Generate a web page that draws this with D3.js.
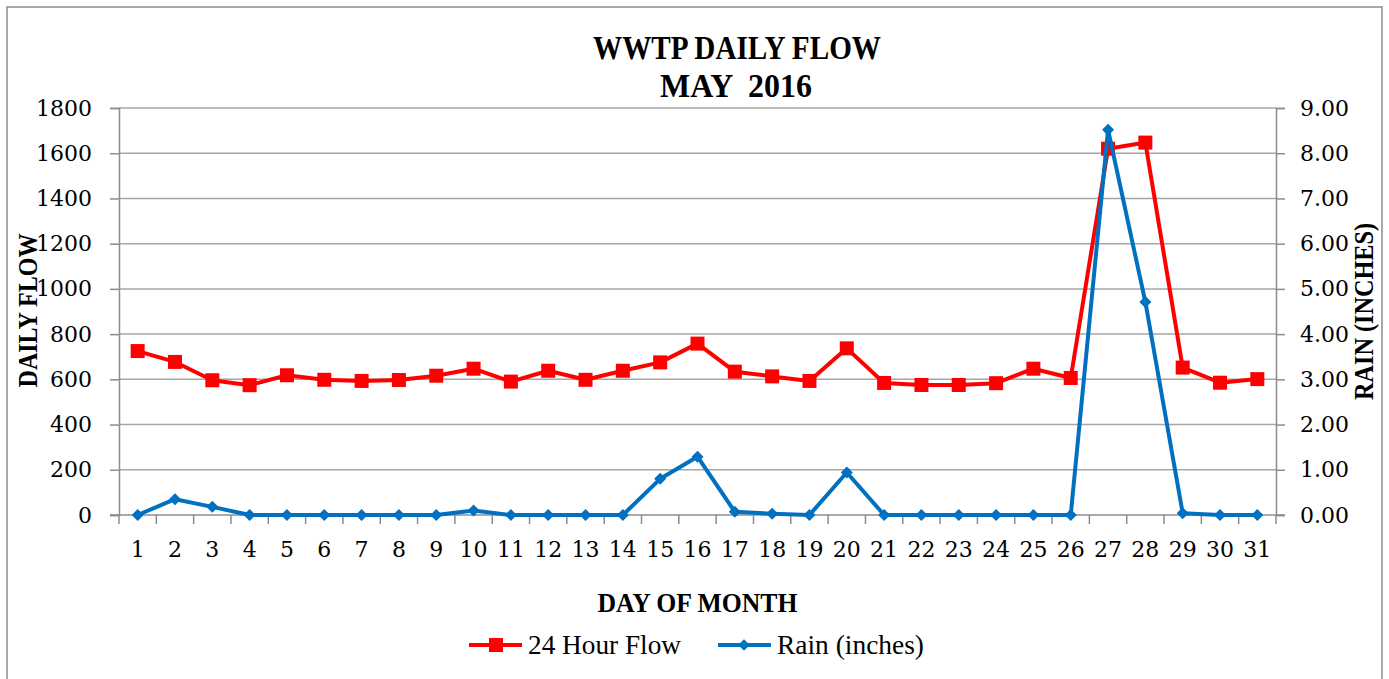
<!DOCTYPE html>
<html>
<head>
<meta charset="utf-8">
<script src="https://cdn.jsdelivr.net/npm/d3@7"></script>
<style>
  body { margin: 0; background: #fff; }
  svg text { font-family: "Liberation Serif", "DejaVu Serif", serif; fill: #000; }
  svg .num text { font-family: "DejaVu Serif", "Liberation Serif", serif; }
</style>
</head>
<body>
<div id="chart"></div>
<script>
// data
const days = d3.range(1, 32).map(String);
const flow = [725, 677, 596, 574, 618, 598, 593, 597, 616, 647, 590, 638, 598, 638, 675,
              758, 634, 613, 593, 737, 584, 575, 575, 583, 647, 606, 1620, 1647, 652, 585, 601];
const rain = [0, 0.35, 0.18, 0, 0, 0, 0, 0, 0, 0.10, 0, 0, 0, 0, 0.80,
              1.29, 0.07, 0.03, 0, 0.94, 0, 0, 0, 0, 0, 0, 8.52, 4.71, 0.04, 0, 0];
const flowTicks = d3.range(0, 1801, 200);
const rainTicks = d3.range(0, 9.01, 1);

const W = 1389, H = 679;
const plot = { left: 119, right: 1276, top: 108, bottom: 515 };
const axisGrey = "#8c8c8c";

const svg = d3.select("#chart").append("svg")
    .attr("width", W)
    .attr("height", H);

// chart frame
svg.append("rect")
    .attr("x", 7).attr("y", 7)
    .attr("width", 1375).attr("height", 700)
    .attr("fill", "#fff")
    .attr("stroke", axisGrey)
    .attr("stroke-width", 1.5);

const x = d3.scaleBand()
    .domain(days)
    .range([plot.left, plot.right]);

const yFlow = d3.scaleLinear().domain([0, 1800]).range([plot.bottom, plot.top]);
const yRain = d3.scaleLinear().domain([0, 9]).range([plot.bottom, plot.top]);

// gridlines
svg.append("g")
    .selectAll("line")
    .data(flowTicks.slice(1))
    .join("line")
    .attr("x1", plot.left).attr("x2", plot.right)
    .attr("y1", d => yFlow(d)).attr("y2", d => yFlow(d))
    .attr("stroke", "#a6a6a6")
    .attr("stroke-width", 1.5);

// left axis
const leftAxis = svg.append("g")
    .attr("class", "num")
    .attr("transform", `translate(${plot.left},0)`)
    .call(d3.axisLeft(yFlow).tickValues(flowTicks).tickSize(9).tickPadding(18).tickFormat(d3.format("d")));
leftAxis.select(".domain").attr("stroke", axisGrey).attr("stroke-width", 1.5);
leftAxis.selectAll(".tick line").attr("stroke", axisGrey).attr("stroke-width", 1.5);
leftAxis.selectAll("text").style("font-size", "22px");

// right axis
const rightAxis = svg.append("g")
    .attr("class", "num")
    .attr("transform", `translate(${plot.right},0)`)
    .call(d3.axisRight(yRain).tickValues(rainTicks).tickSize(9).tickPadding(15).tickFormat(d3.format(".2f")));
rightAxis.select(".domain").attr("stroke", axisGrey).attr("stroke-width", 1.5);
rightAxis.selectAll(".tick line").attr("stroke", axisGrey).attr("stroke-width", 1.5);
rightAxis.selectAll("text").style("font-size", "22px");

// bottom axis: labels centred, ticks between categories
const bottomAxis = svg.append("g")
    .attr("class", "num")
    .attr("transform", `translate(0,${plot.bottom})`)
    .call(d3.axisBottom(x).tickSize(0).tickPadding(26));
bottomAxis.select(".domain").remove();
bottomAxis.selectAll("text").style("font-size", "22px");

svg.append("g")
    .selectAll("line")
    .data(d3.range(days.length + 1))
    .join("line")
    .attr("x1", i => plot.left + i * x.step())
    .attr("x2", i => plot.left + i * x.step())
    .attr("y1", plot.bottom).attr("y2", plot.bottom + 9)
    .attr("stroke", axisGrey)
    .attr("stroke-width", 1.5);

svg.append("line")
    .attr("x1", plot.left - 9).attr("x2", plot.right + 9)
    .attr("y1", plot.bottom).attr("y2", plot.bottom)
    .attr("stroke", axisGrey)
    .attr("stroke-width", 1.5);

const cx = d => x(d) + x.bandwidth() / 2;

// flow line
const flowLine = d3.line()
    .x((d, i) => cx(days[i]))
    .y(d => yFlow(d));

svg.append("path")
    .datum(flow)
    .attr("fill", "none")
    .attr("stroke", "#ff0000")
    .attr("stroke-width", 4)
    .attr("stroke-linejoin", "round")
    .attr("d", flowLine);

svg.append("g")
    .selectAll("rect")
    .data(flow)
    .join("rect")
    .attr("x", (d, i) => cx(days[i]) - 7)
    .attr("y", d => yFlow(d) - 7)
    .attr("width", 14).attr("height", 14)
    .attr("fill", "#ff0000");

// rain line
const rainLine = d3.line()
    .x((d, i) => cx(days[i]))
    .y(d => yRain(d));

svg.append("path")
    .datum(rain)
    .attr("fill", "none")
    .attr("stroke", "#0070c0")
    .attr("stroke-width", 4)
    .attr("stroke-linejoin", "round")
    .attr("d", rainLine);

svg.append("g")
    .selectAll("path")
    .data(rain)
    .join("path")
    .attr("transform", (d, i) => `translate(${cx(days[i])},${yRain(d)}) rotate(45)`)
    .attr("d", d3.symbol().type(d3.symbolSquare).size(72))
    .attr("fill", "#0070c0");

// titles
svg.append("text")
    .attr("x", 737).attr("y", 59)
    .attr("text-anchor", "middle")
    .attr("textLength", 288).attr("lengthAdjust", "spacingAndGlyphs")
    .style("font-size", "33px").style("font-weight", "bold")
    .text("WWTP DAILY FLOW");
svg.append("text")
    .attr("x", 736).attr("y", 97)
    .attr("text-anchor", "middle")
    .attr("textLength", 152).attr("lengthAdjust", "spacingAndGlyphs")
    .style("font-size", "33px").style("font-weight", "bold")
    .style("white-space", "pre")
    .text("MAY  2016");

const plotMid = (plot.left + plot.right) / 2;
svg.append("text")
    .attr("x", plotMid).attr("y", 612)
    .attr("text-anchor", "middle")
    .attr("textLength", 200).attr("lengthAdjust", "spacingAndGlyphs")
    .style("font-size", "28px").style("font-weight", "bold")
    .text("DAY OF MONTH");

svg.append("text")
    .attr("transform", `translate(37,${(plot.top + plot.bottom) / 2 - 1}) rotate(-90)`)
    .attr("text-anchor", "middle")
    .attr("textLength", 154).attr("lengthAdjust", "spacingAndGlyphs")
    .style("font-size", "27px").style("font-weight", "bold")
    .text("DAILY FLOW");

svg.append("text")
    .attr("transform", `translate(1373,${(plot.top + plot.bottom) / 2}) rotate(-90)`)
    .attr("text-anchor", "middle")
    .attr("textLength", 177).attr("lengthAdjust", "spacingAndGlyphs")
    .style("font-size", "27px").style("font-weight", "bold")
    .text("RAIN (INCHES)");

// legend
const legend = svg.append("g").attr("transform", "translate(469,645)");

legend.append("line")
    .attr("x1", 0).attr("x2", 53)
    .attr("stroke", "#ff0000").attr("stroke-width", 4);
legend.append("rect")
    .attr("x", 20).attr("y", -7).attr("width", 14).attr("height", 14)
    .attr("fill", "#ff0000");
legend.append("text")
    .attr("x", 59).attr("y", 9)
    .attr("textLength", 153).attr("lengthAdjust", "spacingAndGlyphs")
    .style("font-size", "27px")
    .text("24 Hour Flow");

legend.append("line")
    .attr("x1", 249).attr("x2", 302)
    .attr("stroke", "#0070c0").attr("stroke-width", 4);
legend.append("path")
    .attr("transform", "translate(275,0) rotate(45)")
    .attr("d", d3.symbol().type(d3.symbolSquare).size(66))
    .attr("fill", "#0070c0");
legend.append("text")
    .attr("x", 308).attr("y", 9)
    .attr("textLength", 147).attr("lengthAdjust", "spacingAndGlyphs")
    .style("font-size", "27px")
    .text("Rain (inches)");
</script>
</body>
</html>
